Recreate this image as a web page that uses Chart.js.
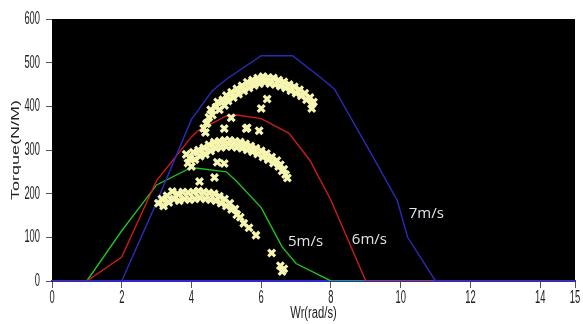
<!DOCTYPE html>
<html>
<head>
<meta charset="utf-8">
<script src="https://cdn.jsdelivr.net/npm/chart.js@4/dist/chart.umd.min.js"></script>
<style>
html,body{margin:0;padding:0;background:#fff;}
canvas{display:block;}
</style>
</head>
<body>
<canvas id="c" width="583" height="324"></canvas>
<script>
// ---- tick labels ----
const xTickValues = [0, 2, 4, 6, 8, 10, 12, 14, 15];
const yTickValues = [0, 100, 200, 300, 400, 500, 600];

// ---- torque curves (line series) ----
const curve5X = [0, 1, 2, 3, 4, 5, 5.3, 6, 6.6, 7, 8, 15];
const curve5Y = [0, 0, 115, 220, 260, 250, 228, 168, 78, 40, 0, 0];
const curve6X = [0, 1, 2, 3, 4, 4.2, 5, 5.3, 6, 6.8, 7.4, 8, 9, 15];
const curve6Y = [0, 0, 55, 230, 330, 345, 378, 380, 372, 338, 276, 185, 0, 0];
const curve7X = [0, 1, 2, 3, 4, 4.6, 5, 6, 6.9, 7.7, 8.1, 9.1, 9.9, 10.2, 11, 15];
const curve7Y = [0, 0, 0, 180, 370, 436, 462, 516, 516, 466, 440, 299, 185, 100, 0, 0];

// ---- curve annotations ----
const curveNames = ['5m/s', '6m/s', '7m/s'];
const curveNameX = [6.77, 8.6, 10.23];
const curveNameY = [91, 94, 153];

// ---- measured operating points (scatter) ----
const pts7 = [[4.35,350],[4.45,362],[4.4,340],[4.5,375],[4.55,392],[4.6,380],[4.7,398],[4.75,410],[4.8,392],[4.9,415],[4.95,402],[5.0,425],[5.05,412],[5.15,432],[5.2,420],[5.3,440],[5.35,428],[5.45,447],[5.5,435],[5.6,455],[5.65,442],[5.75,460],[5.8,448],[5.9,465],[5.95,452],[6.05,468],[6.1,455],[6.2,466],[6.25,452],[6.35,465],[6.4,450],[6.5,460],[6.55,446],[6.65,456],[6.7,442],[6.8,450],[6.85,436],[6.95,445],[7.0,430],[7.1,438],[7.15,424],[7.25,430],[7.3,415],[7.4,420],[7.45,405],[7.5,410],[7.45,395],[6.17,417],[6.0,395],[5.6,351],[5.94,344],[5.14,374],[5.57,349]];
const pts6 = [[3.85,290],[3.9,270],[3.95,282],[4.0,262],[4.05,295],[4.1,278],[4.2,300],[4.25,286],[4.35,305],[4.4,290],[4.5,312],[4.55,298],[4.65,318],[4.7,304],[4.8,320],[4.85,306],[4.95,322],[5.0,308],[5.1,322],[5.15,308],[5.25,320],[5.3,306],[5.4,318],[5.45,304],[5.55,314],[5.6,300],[5.7,309],[5.75,296],[5.85,304],[5.9,291],[6.0,298],[6.05,284],[6.15,292],[6.2,278],[6.3,284],[6.35,270],[6.45,276],[6.5,262],[6.55,266],[6.6,252],[6.65,256],[6.7,244],[6.75,236],[4.43,360],[4.94,349],[4.74,272],[4.94,269]];
const pts5 = [[3.05,178],[3.15,188],[3.2,172],[3.3,195],[3.35,180],[3.45,205],[3.5,188],[3.6,200],[3.65,184],[3.75,204],[3.8,188],[3.9,202],[3.95,186],[4.05,204],[4.1,188],[4.2,206],[4.25,190],[4.35,204],[4.4,188],[4.5,202],[4.55,186],[4.65,200],[4.7,184],[4.8,194],[4.85,178],[4.95,188],[5.0,172],[5.1,178],[5.15,164],[5.25,165],[5.3,152],[5.4,146],[5.5,132],[5.65,122],[5.85,105],[6.3,64],[6.55,35],[6.6,22],[6.65,28],[4.23,228],[4.66,237]];

const toXY = (xs, ys) => xs.map((x, i) => ({x: x, y: ys[i]}));
const toPts = arr => arr.map(p => ({x: p[0], y: p[1]}));

const plotBg = {
  id: 'plotBg',
  beforeDraw(chart) {
    const {ctx, chartArea: a} = chart;
    ctx.save();
    ctx.fillStyle = '#fff';
    ctx.fillRect(0, 0, chart.width, chart.height);
    ctx.fillStyle = '#000';
    ctx.fillRect(a.left, a.top, a.right - a.left, a.bottom - a.top);
    ctx.restore();
  }
};

const curveLabels = {
  id: 'curveLabels',
  afterDatasetsDraw(chart) {
    const {ctx, scales} = chart;
    ctx.save();
    ctx.font = '15px "Open Sans", sans-serif';
    ctx.fillStyle = '#e2e2ea';
    ctx.textAlign = 'left';
    ctx.textBaseline = 'middle';
    curveNames.forEach((t, i) => {
      ctx.fillText(t, scales.x.getPixelForValue(curveNameX[i]), scales.y.getPixelForValue(curveNameY[i]));
    });
    ctx.restore();
  }
};

// condensed look of the axis texts (text-space scale factors)
const squeezeCfg = {
  x: {tick: [0.52, 1], title: [0.7, 1]},
  y: {tick: [0.52, 1], title: [1, 0.6]}
};
const squeeze = {
  id: 'squeeze',
  afterLayout(chart) {
    Object.values(chart.scales).forEach(s => {
      if (s._sq || !squeezeCfg[s.id]) return;
      s._sq = true;
      const wrap = (name, f) => {
        const orig = s[name].bind(s);
        s[name] = function(...args) {
          const ctx = this.ctx;
          const r = CanvasRenderingContext2D.prototype.rotate;
          ctx.rotate = function(a) { r.call(this, a); this.scale(f[0], f[1]); };
          try { orig(...args); } finally { delete ctx.rotate; }
        };
      };
      wrap('drawLabels', squeezeCfg[s.id].tick);
      wrap('drawTitle', squeezeCfg[s.id].title);
    });
  }
};

const lineDs = (label, xs, ys, color, order) => ({
  type: 'scatter', label, data: toXY(xs, ys), showLine: true,
  borderColor: color, borderWidth: 1.4, pointRadius: 0, tension: 0, order
});
const ptDs = (label, arr) => ({
  type: 'scatter', label, data: toPts(arr),
  pointStyle: 'crossRot', pointRadius: 4.8, pointBorderWidth: 3.2,
  borderColor: '#f6f6b0', backgroundColor: '#f6f6b0', order: 1
});

const sans = '"Liberation Sans", Arial, sans-serif';
const tickFont = {family: sans, size: 18};

new Chart(document.getElementById('c'), {
  type: 'scatter',
  data: {
    datasets: [
      lineDs('5m/s', curve5X, curve5Y, '#1fc21f', 5),
      lineDs('6m/s', curve6X, curve6Y, '#cc1c1c', 4),
      lineDs('7m/s', curve7X, curve7Y, '#2b2bb8', 3),
      ptDs('pts 5m/s', pts5),
      ptDs('pts 6m/s', pts6),
      ptDs('pts 7m/s', pts7)
    ]
  },
  options: {
    responsive: false,
    animation: false,
    devicePixelRatio: 1,
    layout: {padding: {left: 0, top: 19, right: 0, bottom: 0}},
    plugins: {legend: {display: false}, tooltip: {enabled: false}},
    scales: {
      x: {
        type: 'linear', min: 0, max: 15,
        afterBuildTicks: s => { s.ticks = xTickValues.map(v => ({value: v})); },
        afterFit: s => { s.height = 43; s.paddingRight = 5; s.paddingLeft = 0; },
        grid: {drawOnChartArea: false, drawTicks: true, tickLength: 7, color: '#555'},
        border: {display: true, color: '#2a2ad0', width: 2},
        ticks: {color: '#222', font: tickFont, padding: -1, maxRotation: 0, autoSkip: false},
        title: {display: true, text: 'Wr(rad/s)', color: '#222', font: {family: sans, size: 16}, padding: {top: 0, bottom: 1}}
      },
      y: {
        type: 'linear', min: 0, max: 600,
        afterBuildTicks: s => { s.ticks = yTickValues.map(v => ({value: v})); },
        afterFit: s => { s.width = 52; },
        grid: {drawOnChartArea: false, drawTicks: true, tickLength: 6, color: '#555'},
        border: {display: true, color: '#000', width: 1},
        ticks: {color: '#222', font: tickFont, padding: 6},
        title: {display: true, text: 'Torque(N/M)', color: '#222', font: {family: sans, size: 18}, padding: {top: 5, bottom: 0}}
      }
    }
  },
  plugins: [plotBg, curveLabels, squeeze]
});
</script>
</body>
</html>
